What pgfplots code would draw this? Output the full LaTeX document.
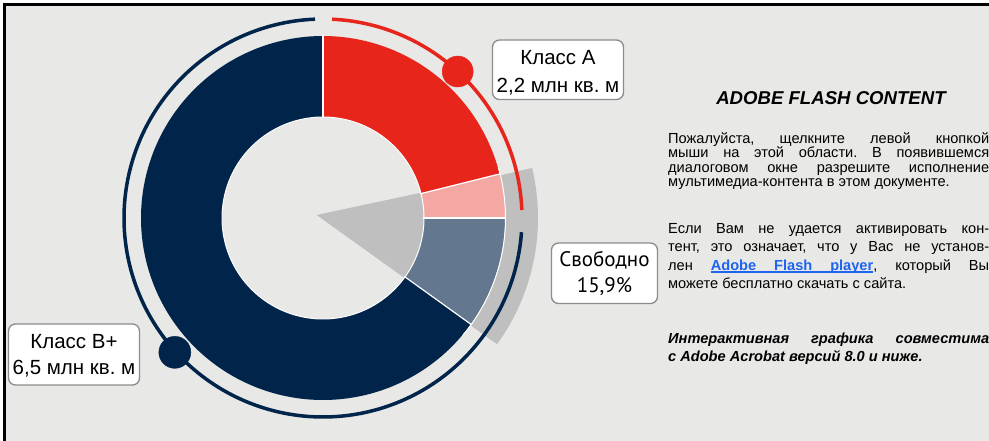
\documentclass[border=0pt]{standalone}
\usepackage{pgfplots}
\pgfplotsset{compat=1.18}
\usepackage{fontspec}
\setmainfont{Liberation Sans}
\newfontfamily\ptsans{PT Sans}
\definecolor{bgc}{HTML}{E8E8E6}
\definecolor{cred}{HTML}{E7251B}
\definecolor{cpink}{HTML}{F4A8A3}
\definecolor{cslate}{HTML}{63788F}
\definecolor{cnavy}{HTML}{00244A}
\definecolor{cgray}{HTML}{BFBFBF}
\definecolor{cbox}{HTML}{8C8C8C}
\definecolor{clink}{HTML}{1E64F0}
\frenchspacing
\newcommand\jl[1]{\makebox[321bp][s]{#1}}
\newcommand\ul[1]{\setbox0\hbox{#1}\rlap{\rule[-2.3bp]{\wd0}{1.3bp}}\box0}
\newcommand\ulsp{\leaders\hrule height -1.0bp depth 2.3bp\hskip\fontdimen2\font plus\fontdimen3\font minus\fontdimen4\font\relax}
\newcommand\lnk[1]{{\color{clink}\bfseries\ul{#1}}}
\newcommand\lsp{{\color{clink}\bfseries\ulsp}}
\begin{document}
\begin{tikzpicture}
\useasboundingbox (0,0) rectangle (989bp,441bp);
\clip (0,0) rectangle (989bp,441bp);
\begin{scope}[x=1bp,y=-1bp,shift={(0,441bp)}]
  \fill[white] (0,0) rectangle (989,441);
  \filldraw[fill=bgc, draw=black, line width=2.6bp] (4.5,4.5) rectangle (1010,470);
\end{scope}
\begin{axis}[at={(0,0)}, anchor=south west, x=1bp, y=1bp,
  xmin=-323, xmax=666, ymin=-223, ymax=218, hide axis, clip=false]
  % grey "free" band outside the ring (-36 .. 13.5 deg)
  \addplot[cgray, line width=45bp, domain=-36:13.5, samples=60] ({192.5*cos(x)},{192.5*sin(x)});
  % grey wedge in the hole
  \addplot[fill=cgray, draw=none] coordinates {(-6.3,3) (134.5,33.1) (111.6,-81.6)} -- cycle;
  % ring segments (angles in degrees)
  \addplot[cred, line width=81bp, line join=round, domain=14:90, samples=80] ({141.5*cos(x)},{141.5*sin(x)});
  \addplot[cpink, line width=81bp, line join=round, domain=0:14, samples=20] ({141.5*cos(x)},{141.5*sin(x)});
  \addplot[cslate, line width=81bp, line join=round, domain=-35.7:0, samples=40] ({141.5*cos(x)},{141.5*sin(x)});
  \addplot[cnavy, line width=81bp, line join=round, domain=90:324.3, samples=240] ({141.5*cos(x)},{141.5*sin(x)});
  % white outlines
  \addplot[white, line width=1bp, domain=0:360, samples=181] ({101*cos(x)},{101*sin(x)});
  \addplot[white, line width=1bp, domain=-40:16, samples=60] ({182.5*cos(x)},{182.5*sin(x)});
  \addplot[white, line width=1.2bp, data cs=polar] coordinates {(90,100) (90,183)};
  \addplot[white, line width=1.2bp, data cs=polar] coordinates {(14,100) (14,183)};
  \addplot[white, line width=1.2bp, data cs=polar] coordinates {(0,100) (0,183)};
  \addplot[white, line width=1.2bp, data cs=polar] coordinates {(-35.7,100) (-35.7,183)};
  % outer arcs
  \addplot[cred, line width=3.5bp, domain=2.3:87.4, samples=90] ({199*cos(x)},{199*sin(x)});
  \addplot[cnavy, line width=3.5bp, domain=92.3:355.9, samples=260] ({199*cos(x)},{199*sin(x)});
  % dots
  \addplot[only marks, mark=*, mark size=15.5bp, mark options={draw=cred, fill=cred}, data cs=polar] coordinates {(47.4,199)};
  \addplot[only marks, mark=*, mark size=16bp, mark options={draw=cnavy, fill=cnavy}, data cs=polar] coordinates {(222.2,200)};
\end{axis}
\begin{scope}[x=1bp,y=-1bp,shift={(0,441bp)}]
  \tikzset{lab/.style={anchor=base, inner sep=0pt, font=\fontsize{20.5bp}{24bp}\selectfont},
           body/.style={anchor=base west, inner sep=0pt, font=\fontsize{14.6bp}{16bp}\selectfont},
           bbody/.style={anchor=base west, inner sep=0pt, font=\fontsize{14.6bp}{16bp}\selectfont\bfseries\itshape}}
  % label boxes
  \draw[cbox, fill=white, rounded corners=7bp, line width=1.3bp] (492.5,40) rectangle (623.5,99.5);
  \node[lab] at (558,65) {Класс А};
  \node[lab] at (558,93) {2,2 млн кв. м};
  \draw[cbox, fill=white, rounded corners=7bp, line width=1.3bp] (551.5,243) rectangle (657.5,303.5);
  \node[lab, font=\ptsans\fontsize{21bp}{24bp}\selectfont] at (604.5,267) {Свободно};
  \node[lab, font=\ptsans\fontsize{21bp}{24bp}\selectfont] at (604.5,293) {15,9\%};
  \draw[cbox, fill=white, rounded corners=7bp, line width=1.3bp] (8.5,324) rectangle (139.5,385);
  \node[lab] at (74,349) {Класс В+};
  \node[lab] at (74,375) {6,5 млн кв. м};
  % right text panel
  \node[anchor=base, inner sep=0pt, font=\fontsize{18.6bp}{20bp}\selectfont\bfseries\itshape] at (831,104.5) {ADOBE FLASH CONTENT};
  \node[body] at (668,143.5) {\jl{Пожалуйста, щелкните левой кнопкой}};
  \node[body] at (668,158) {\jl{мыши на этой области. В появившемся}};
  \node[body] at (668,172.5) {\jl{диалоговом окне разрешите исполнение}};
  \node[body] at (668,187) {мультимедиа-контента в этом документе.};
  \node[body] at (668,234) {\jl{Если Вам не удается активировать кон-}};
  \node[body] at (668,252) {\jl{тент, это означает, что у Вас не установ-}};
  \node[body] at (668,270.5) {\jl{лен \lnk{Adobe}\lsp\lnk{Flash}\lsp\lnk{player}, который Вы}};
  \node[body] at (668,288.5) {можете бесплатно скачать с сайта.};
  \node[bbody] at (668,344) {\jl{Интерактивная графика совместима}};
  \node[bbody] at (668,362) {с Adobe Acrobat версий 8.0 и ниже.};
\end{scope}
\end{tikzpicture}
\end{document}
